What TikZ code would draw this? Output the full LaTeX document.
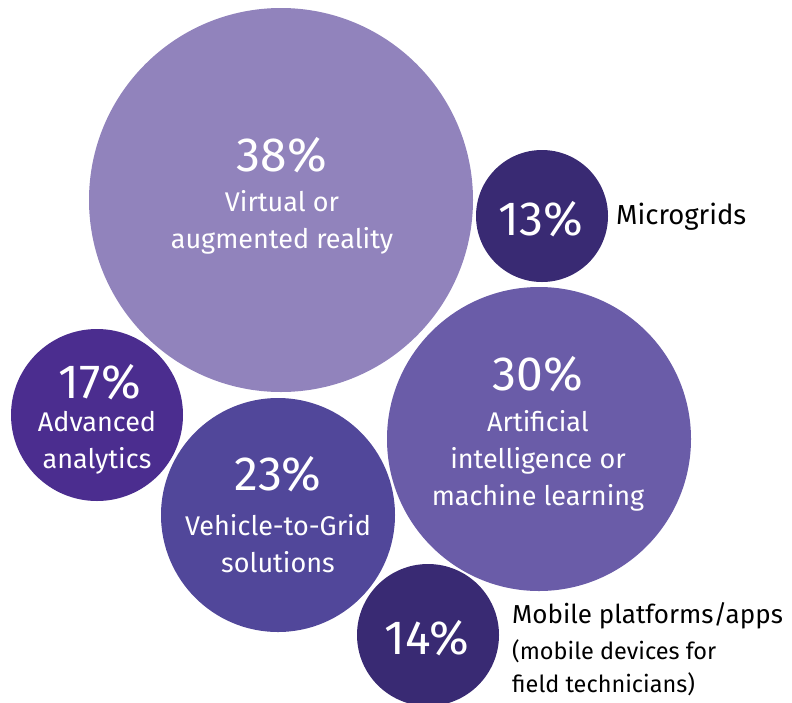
\documentclass[tikz,border=0pt]{standalone}
\usepackage{fontspec}
\setmainfont{Fira Sans}
\definecolor{cA}{HTML}{9183BC}
\definecolor{cB}{HTML}{392A73}
\definecolor{cC}{HTML}{4B2D8F}
\definecolor{cD}{HTML}{6A5CA8}
\definecolor{cE}{HTML}{51479A}
\tikzset{
  bubble/.style={circle, inner sep=0pt, draw=none},
  pct/.style={text=white, font=\fontsize{48}{48}\selectfont, inner sep=0pt},
  lbl/.style={text=white, font=\fontsize{27}{37}\selectfont, align=center, inner sep=0pt},
  side/.style={text=black, font=\fontsize{26}{34}\selectfont, align=left, inner sep=0pt, anchor=west}
}
\begin{document}
\begin{tikzpicture}[x=1pt,y=-1pt]
\useasboundingbox (0,0) rectangle (792,702);
\begin{scope}
\clip (0,0) rectangle (792,702);
\node[bubble, fill=cA, minimum size=384pt] (c38) at (281,200) {};
\node[bubble, fill=cB, minimum size=132pt] (c13) at (542,216) {};
\node[bubble, fill=cC, minimum size=172pt] (c17) at (97,415) {};
\node[bubble, fill=cD, minimum size=304pt] (c30) at (539,439) {};
\node[bubble, fill=cE, minimum size=234pt] (c23) at (278,515) {};
\node[bubble, fill=cB, minimum size=142pt] (c14) at (428,635) {};
\end{scope}
\node[pct] (p38) at (282,155) {38\%};
\node[lbl] (l38) at (282,222) {Virtual or\\augmented reality};
\node[pct] (p13) at (541,219) {13\%};
\node[side, font=\fontsize{27.5}{34}\selectfont] (s13) at (616,217) {Microgrids};
\node[pct] (p17) at (100,382) {17\%};
\node[lbl] (l17) at (97,443) {Advanced\\analytics};
\node[pct] (p30) at (538,374) {30\%};
\node[lbl] (l30) at (538,461) {Artificial\\intelligence or\\machine learning};
\node[pct] (p23) at (278,474) {23\%};
\node[lbl] (l23) at (278,544) {Vehicle-to-Grid\\solutions};
\node[pct] (p14) at (427,638) {14\%};
\node[side] (s14a) at (512,616) {Mobile platforms/apps};
\node[side, font=\fontsize{23.5}{33}\selectfont] (s14b) at (512,668) {(mobile devices for\\field technicians)};
\end{tikzpicture}
\end{document}
